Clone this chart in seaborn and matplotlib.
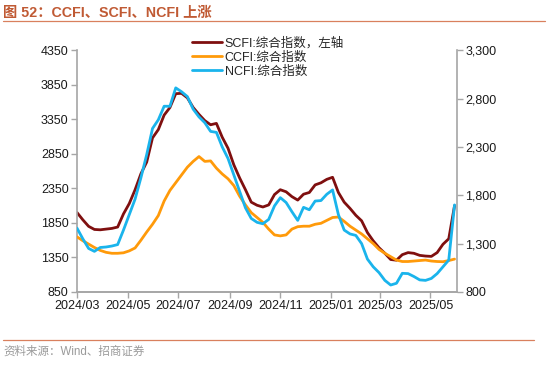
import numpy as np
import pandas as pd
import seaborn as sns
import matplotlib.pyplot as plt
import matplotlib.dates as mdates
from matplotlib.lines import Line2D
from matplotlib.ticker import FuncFormatter

# datos semanales
fechas = pd.date_range('2024-03-01', periods=66, freq='7D')

scfi = [2000, 1895, 1800, 1755, 1750, 1760, 1770, 1790, 1980, 2130,
        2330, 2560, 2730, 3080, 3200, 3410, 3520, 3720, 3725, 3660,
        3520, 3420, 3330, 3270, 3290, 3090, 2930, 2690, 2500, 2330,
        2150, 2105, 2080, 2110, 2260, 2330, 2300, 2230, 2180, 2265,
        2290, 2400, 2430, 2480, 2510, 2290, 2150, 2060, 1960, 1880,
        1710, 1590, 1490, 1410, 1320, 1310, 1390, 1420, 1410, 1380,
        1370, 1365, 1420, 1540, 1620, 2100]

ccfi = [1370, 1330, 1295, 1260, 1230, 1210, 1200, 1200, 1205, 1225,
        1255, 1335, 1420, 1500, 1590, 1740, 1850, 1930, 2010, 2090,
        2150, 2200, 2150, 2155, 2080, 2020, 1970, 1900, 1790, 1700,
        1620, 1570, 1520, 1450, 1390, 1380, 1390, 1450, 1475, 1480,
        1480, 1500, 1510, 1540, 1570, 1575, 1530, 1480, 1440, 1400,
        1350, 1300, 1240, 1200, 1165, 1130, 1115, 1115, 1120, 1125,
        1130, 1120, 1115, 1113, 1125, 1140]

ncfi = [1460, 1350, 1250, 1220, 1260, 1265, 1275, 1290, 1440, 1600,
        1760, 1980, 2220, 2490, 2580, 2720, 2720, 2910, 2870, 2820,
        2690, 2610, 2550, 2460, 2450, 2300, 2180, 2010, 1840, 1670,
        1560, 1520, 1505, 1550, 1690, 1775, 1725, 1630, 1540, 1675,
        1650, 1740, 1745, 1810, 1855, 1600, 1440, 1400, 1385, 1300,
        1140, 1060, 1000, 920, 872, 890, 993, 990, 960, 925,
        920, 940, 990, 1060, 1130, 1700]

etiquetas = ['SCFI:综合指数，左轴', 'CCFI:综合指数', 'NCFI:综合指数']
colores = ['#7F0F0F', '#FF9A0A', '#1AB4EC']

df = pd.DataFrame({'Fecha': fechas, 'SCFI': scfi, 'CCFI': ccfi, 'NCFI': ncfi})

sns.set_theme(style='white')
plt.rcParams['font.family'] = ['Liberation Sans', 'Noto Sans CJK SC', 'DejaVu Sans']

fig = plt.figure(figsize=(5.5, 3.77), dpi=100)
ax = fig.add_axes([0.14, 0.2255, 0.691, 0.6415])
ax2 = ax.twinx()

sns.lineplot(data=df, x='Fecha', y='SCFI', ax=ax, color=colores[0], linewidth=2.0, label=etiquetas[0], legend=False)
sns.lineplot(data=df, x='Fecha', y='CCFI', ax=ax2, color=colores[1], linewidth=2.0, label=etiquetas[1], legend=False)
sns.lineplot(data=df, x='Fecha', y='NCFI', ax=ax2, color=colores[2], linewidth=2.0, label=etiquetas[2], legend=False)

ax.set_xlim(pd.Timestamp('2024-03-01'), pd.Timestamp('2025-06-02'))
ax.set_ylim(850, 4350)
ax.set_yticks(np.arange(850, 4351, 500))
ax2.set_ylim(800, 3300)
ax2.set_yticks(np.arange(800, 3301, 500))
ax2.yaxis.set_major_formatter(FuncFormatter(lambda v, p: f'{v:,.0f}'))

ax.xaxis.set_major_locator(mdates.MonthLocator(bymonth=[1, 3, 5, 7, 9, 11]))
ax.xaxis.set_major_formatter(mdates.DateFormatter('%Y/%m'))

ax.set_xlabel('')
ax.set_ylabel('')
ax2.set_ylabel('')

gris = '#A6A6A6'
for a in (ax, ax2):
    a.grid(False)
    a.spines['top'].set_visible(False)
    for s in ('left', 'right', 'bottom'):
        a.spines[s].set_color(gris)
        a.spines[s].set_linewidth(1.2)
    a.tick_params(axis='both', direction='out', length=4, width=1, color=gris,
                  labelsize=9, labelcolor='#1a1a1a', pad=2)
ax.spines['right'].set_visible(False)
ax2.spines['left'].set_visible(False)
ax.tick_params(axis='y', left=True)
ax.tick_params(axis='x', bottom=True)
ax2.tick_params(axis='y', right=True)

# leyenda combinada
h1, l1 = ax.get_legend_handles_labels()
h2, l2 = ax2.get_legend_handles_labels()
ax.legend(h1 + h2, l1 + l2, loc='upper left', bbox_to_anchor=(0.29, 1.075),
          frameon=False, fontsize=9, handlelength=2.4, handletextpad=0.2,
          labelspacing=0.15, borderaxespad=0)

# titulo y fuente
fig.text(0.006, 0.965, '图 52：CCFI、SCFI、NCFI 上涨', fontsize=10.3, fontweight='bold',
         color='#C05A34', va='center', ha='left',
         family=['Liberation Sans', 'Noto Sans CJK SC'])
fig.add_artist(Line2D([0.006, 0.99], [0.943, 0.943], color='#D9805E', linewidth=0.9))
fig.add_artist(Line2D([0.006, 0.97], [0.098, 0.098], color='#D9805E', linewidth=0.9))
fig.text(0.006, 0.067, '资料来源：Wind、招商证券', fontsize=8.3, color='#9A9A9A',
         va='center', ha='left', family=['Liberation Sans', 'Noto Sans CJK SC'])

plt.savefig('out.png', dpi=100)
